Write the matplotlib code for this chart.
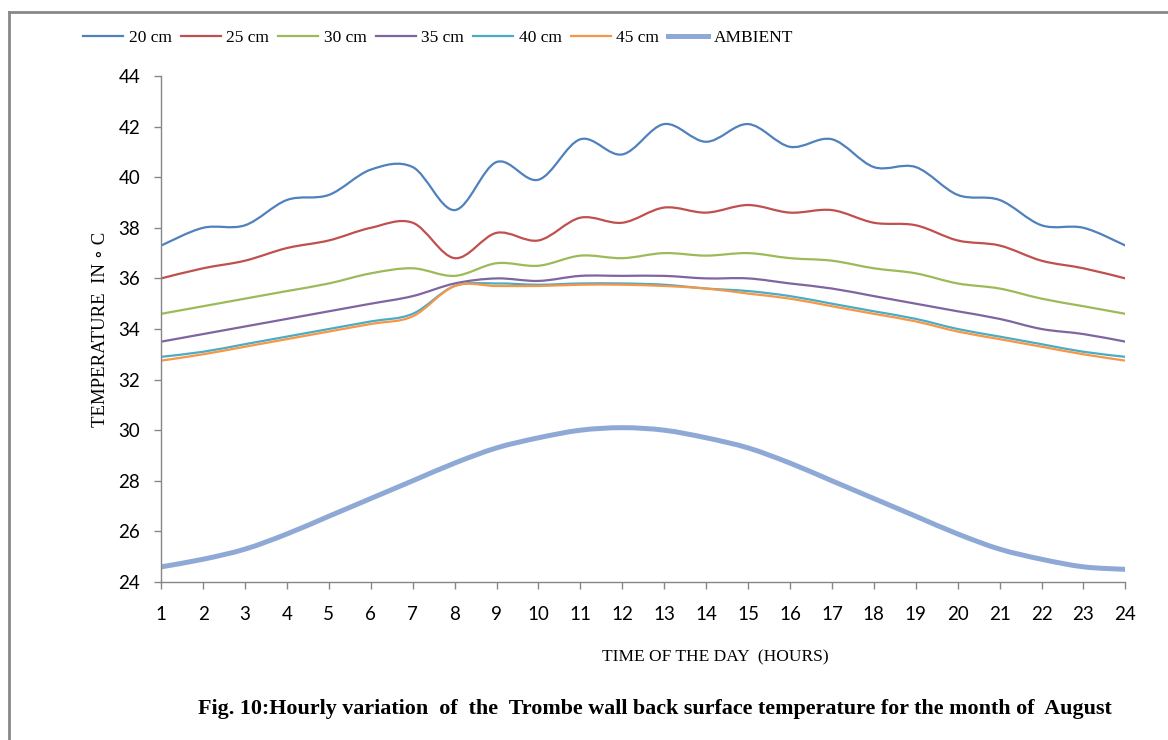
import matplotlib
matplotlib.use("Agg")
import numpy as np
import matplotlib.pyplot as plt
from matplotlib.path import Path
from matplotlib.patches import PathPatch
from matplotlib.lines import Line2D

# hours of the day
hours = list(range(1, 25))

# back surface temperature for each wall thickness (deg C)
t_20cm = [37.3, 38.0, 38.1, 39.1, 39.3, 40.3, 40.4, 38.7, 40.6, 39.9, 41.5, 40.9,
          42.1, 41.4, 42.1, 41.2, 41.5, 40.4, 40.4, 39.3, 39.1, 38.1, 38.0, 37.3]
t_25cm = [36.0, 36.4, 36.7, 37.2, 37.5, 38.0, 38.2, 36.8, 37.8, 37.5, 38.4, 38.2,
          38.8, 38.6, 38.9, 38.6, 38.7, 38.2, 38.1, 37.5, 37.3, 36.7, 36.4, 36.0]
t_30cm = [34.6, 34.9, 35.2, 35.5, 35.8, 36.2, 36.4, 36.1, 36.6, 36.5, 36.9, 36.8,
          37.0, 36.9, 37.0, 36.8, 36.7, 36.4, 36.2, 35.8, 35.6, 35.2, 34.9, 34.6]
t_35cm = [33.5, 33.8, 34.1, 34.4, 34.7, 35.0, 35.3, 35.8, 36.0, 35.9, 36.1, 36.1,
          36.1, 36.0, 36.0, 35.8, 35.6, 35.3, 35.0, 34.7, 34.4, 34.0, 33.8, 33.5]
t_40cm = [32.9, 33.1, 33.4, 33.7, 34.0, 34.3, 34.6, 35.7, 35.8, 35.75, 35.8, 35.8,
          35.75, 35.6, 35.5, 35.3, 35.0, 34.7, 34.4, 34.0, 33.7, 33.4, 33.1, 32.9]
t_45cm = [32.75, 33.0, 33.3, 33.6, 33.9, 34.2, 34.5, 35.7, 35.7, 35.7, 35.75, 35.75,
          35.7, 35.6, 35.4, 35.2, 34.9, 34.6, 34.3, 33.9, 33.6, 33.3, 33.0, 32.75]
t_ambient = [24.6, 24.9, 25.3, 25.9, 26.6, 27.3, 28.0, 28.7, 29.3, 29.7, 30.0, 30.1,
             30.0, 29.7, 29.3, 28.7, 28.0, 27.3, 26.6, 25.9, 25.3, 24.9, 24.6, 24.5]

labels = ["20 cm", "25 cm", "30 cm", "35 cm", "40 cm", "45 cm", "AMBIENT"]
series = [t_20cm, t_25cm, t_30cm, t_35cm, t_40cm, t_45cm, t_ambient]
colors = ["#4F81BD", "#C0504D", "#9BBB59", "#8064A2", "#4BACC6", "#F79646", "#8EA9D6"]
widths = [1.6, 1.6, 1.6, 1.6, 1.6, 1.6, 3.6]


# smooth line like excel: cubic bezier through the points
def smooth_path(x, y):
    x = np.asarray(x, float)
    y = np.asarray(y, float)
    verts = [(x[0], y[0])]
    codes = [Path.MOVETO]
    n = len(x)
    for i in range(n - 1):
        p0 = i - 1 if i > 0 else i
        p3 = i + 2 if i + 2 < n else i + 1
        c1 = (x[i] + (x[i + 1] - x[p0]) / 6, y[i] + (y[i + 1] - y[p0]) / 6)
        c2 = (x[i + 1] - (x[p3] - x[i]) / 6, y[i + 1] - (y[p3] - y[i]) / 6)
        verts += [c1, c2, (x[i + 1], y[i + 1])]
        codes += [Path.CURVE4] * 3
    return Path(verts, codes)


fig = plt.figure(figsize=(11.68, 7.4), dpi=100)
ax = fig.add_axes([0.138, 0.2135, 0.8255, 0.6838])

for y, c, w in zip(series, colors, widths):
    ax.add_patch(PathPatch(smooth_path(hours, y), facecolor="none", edgecolor=c,
                           lw=w, capstyle="round", joinstyle="round"))

ax.set_xlim(1, 24)
ax.set_ylim(24, 44)
ax.set_xticks(hours)
ax.set_yticks(np.arange(24, 45, 2))
for s in ["top", "right"]:
    ax.spines[s].set_visible(False)
for s in ["left", "bottom"]:
    ax.spines[s].set_color("#868686")
    ax.spines[s].set_linewidth(1.0)
ax.tick_params(axis="both", direction="out", color="#868686", length=5, width=1,
               labelsize=13.5)
ax.tick_params(axis="x", pad=12)
ax.tick_params(axis="y", pad=10)
for lab in ax.get_xticklabels() + ax.get_yticklabels():
    lab.set_family("Lato")

ax.set_ylabel("TEMPERATURE  IN \u2218 C", family=["Liberation Serif", "DejaVu Serif"],
              fontsize=13.5, labelpad=7)

handles = [Line2D([], [], color=c, lw=w) for c, w in zip(colors, widths)]
fig.legend(handles, labels, loc="center left", bbox_to_anchor=(0.058, 0.949), ncol=7,
           frameon=False, handlelength=2.3, handletextpad=0.3, columnspacing=0.55,
           prop={"family": "Liberation Serif", "size": 12.5})

fig.text(0.612, 0.112, "TIME OF THE DAY  (HOURS)", family="Liberation Serif",
         fontsize=12.5, ha="center", va="center")
fig.text(0.561, 0.042, "Fig. 10:Hourly variation  of  the  Trombe wall back surface temperature for the month of  August",
         family="Liberation Serif", fontsize=15.8, fontweight="bold", ha="center", va="center")

# outer frame (left and top edges)
fig.add_artist(Line2D([0.0075, 0.0075], [0.0, 0.984], color="#888888", lw=2, transform=fig.transFigure))
fig.add_artist(Line2D([0.0075, 1.0], [0.984, 0.984], color="#888888", lw=2, transform=fig.transFigure))

fig.savefig("out.png", dpi=100)
